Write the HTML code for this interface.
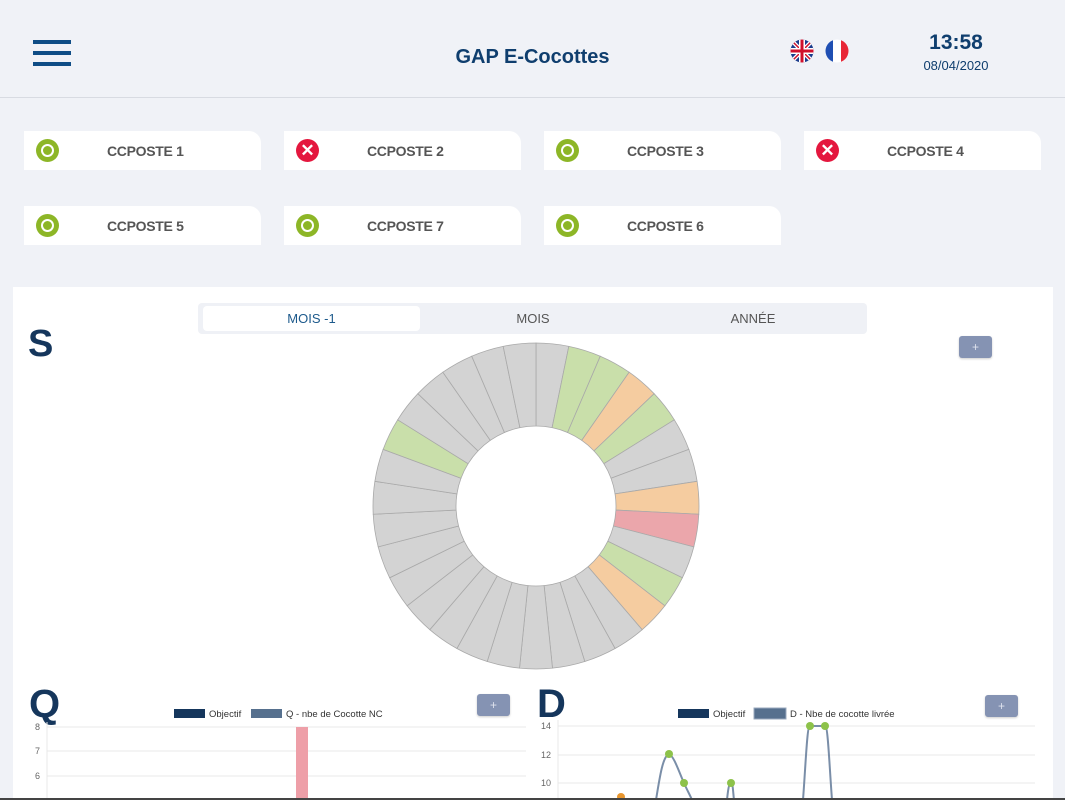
<!DOCTYPE html>
<html><head><meta charset="utf-8"><style>
*{margin:0;padding:0;box-sizing:border-box}
body{width:1065px;height:800px;overflow:hidden;background:#f0f2f7;font-family:"Liberation Sans",sans-serif;position:relative}
.abs{position:absolute}
.card{position:absolute;width:237px;height:39px;background:#fff;border-top-right-radius:12px}
.card .ic{position:absolute;left:12px;top:8px;width:23px;height:23px;border-radius:50%}
.card .ok{background:#8db627}
.card .ok:after{content:"";position:absolute;left:5px;top:5px;width:13px;height:13px;border-radius:50%;background:#8db627;border:2.5px solid #fff;box-sizing:border-box}
.card .ko{background:#e4173e;color:#fff;font-size:17px;font-weight:bold;text-align:center;line-height:23px}
.card .t{position:absolute;left:83px;top:12px;font-size:14px;font-weight:bold;color:#555;letter-spacing:-0.3px}
.plus{position:absolute;width:33px;height:22px;background:#8593b3;border-radius:3px;color:#dfe3ee;font-size:12px;text-align:center;line-height:22px;box-shadow:0 1px 2px rgba(0,0,0,.2)}
.big{position:absolute;font-weight:bold;font-size:40px;color:#15365c}
</style></head><body>
<div class="abs" style="left:33px;top:40px;width:38px;height:4px;background:#0f4d86"></div>
<div class="abs" style="left:33px;top:51px;width:38px;height:4px;background:#0f4d86"></div>
<div class="abs" style="left:33px;top:62px;width:38px;height:4px;background:#0f4d86"></div>
<div class="abs" style="left:0;top:46px;width:1065px;text-align:center;font-size:20px;font-weight:bold;color:#0f3e6e">GAP E-Cocottes</div>
<svg class="abs" style="left:790px;top:39px" width="60" height="26">
<defs><clipPath id="c1"><circle cx="12" cy="12" r="11.5"/></clipPath><clipPath id="c2"><circle cx="47" cy="12" r="11.5"/></clipPath></defs>
<g clip-path="url(#c1)"><rect width="24" height="24" fill="#1a3b8c"/><path d="M0 0L24 24M24 0L0 24" stroke="#fff" stroke-width="4"/><path d="M0 0L24 24M24 0L0 24" stroke="#d0102c" stroke-width="1.5"/><path d="M12 0V24M0 12H24" stroke="#fff" stroke-width="6"/><path d="M12 0V24M0 12H24" stroke="#d0102c" stroke-width="3"/></g>
<g clip-path="url(#c2)"><rect x="35" width="8" height="24" fill="#1f4fb3"/><rect x="43" width="8" height="24" fill="#fff"/><rect x="51" width="8" height="24" fill="#e82636"/></g>
</svg>
<div class="abs" style="left:910px;top:31px;width:92px;text-align:center;font-size:21px;font-weight:bold;color:#0f3e6e">13:58</div>
<div class="abs" style="left:910px;top:58px;width:92px;text-align:center;font-size:13px;color:#0f3e6e">08/04/2020</div>
<div class="abs" style="left:0;top:97px;width:1065px;height:1px;background:#d8dbe2"></div>

<div class="card" style="left:24px;top:131px"><div class="ic ok"></div><div class="t">CCPOSTE 1</div></div>
<div class="card" style="left:284px;top:131px"><div class="ic ko">✕</div><div class="t">CCPOSTE 2</div></div>
<div class="card" style="left:544px;top:131px"><div class="ic ok"></div><div class="t">CCPOSTE 3</div></div>
<div class="card" style="left:804px;top:131px"><div class="ic ko">✕</div><div class="t">CCPOSTE 4</div></div>
<div class="card" style="left:24px;top:206px"><div class="ic ok"></div><div class="t">CCPOSTE 5</div></div>
<div class="card" style="left:284px;top:206px"><div class="ic ok"></div><div class="t">CCPOSTE 7</div></div>
<div class="card" style="left:544px;top:206px"><div class="ic ok"></div><div class="t">CCPOSTE 6</div></div>

<div class="abs" style="left:13px;top:287px;width:1040px;height:513px;background:#fff"></div>
<div class="abs" style="left:198px;top:303px;width:669px;height:31px;background:#eff1f6;border-radius:4px"></div>
<div class="abs" style="left:203px;top:306px;width:217px;height:25px;background:#fff;border-radius:4px"></div>
<div class="abs" style="left:203px;top:311px;width:217px;text-align:center;font-size:13px;color:#1d5a8c">MOIS -1</div>
<div class="abs" style="left:423px;top:311px;width:220px;text-align:center;font-size:13px;color:#555">MOIS</div>
<div class="abs" style="left:643px;top:311px;width:220px;text-align:center;font-size:13px;color:#555">ANNÉE</div>
<div class="big" style="left:28px;top:323px;font-size:38px">S</div>
<div class="plus" style="left:959px;top:336px">+</div>

<svg class="abs" style="left:0;top:0" width="1065" height="800" id="donut"></svg>

<div class="big" style="left:29px;top:682px">Q</div>
<div class="plus" style="left:477px;top:694px">+</div>
<div class="big" style="left:537px;top:682px">D</div>
<div class="plus" style="left:985px;top:695px">+</div>

<svg class="abs" style="left:0;top:0" width="1065" height="800" font-family="Liberation Sans, sans-serif">
<rect x="174" y="709" width="31" height="9" fill="#15365c"/><text x="209" y="717" font-size="9.5" fill="#333">Objectif</text>
<rect x="251" y="709" width="31" height="9" fill="#56708e"/><text x="286" y="717" font-size="9.5" fill="#333">Q - nbe de Cocotte NC</text>
<g stroke="#e8e8e8"><line x1="47" y1="727" x2="526" y2="727"/><line x1="47" y1="751" x2="526" y2="751"/><line x1="47" y1="776" x2="526" y2="776"/><line x1="47" y1="722" x2="47" y2="800"/></g>
<g font-size="9" fill="#666" text-anchor="end"><text x="40" y="730">8</text><text x="40" y="754">7</text><text x="40" y="779">6</text></g>
<rect x="296" y="727" width="12" height="73" fill="#ee9fa8"/>
<rect x="678" y="709" width="31" height="9" fill="#15365c"/><text x="713" y="717" font-size="9.5" fill="#333">Objectif</text>
<rect x="754" y="708" width="32" height="11" fill="#56708e" stroke="#9aa9bd"/><text x="790" y="717" font-size="9.5" fill="#333">D - Nbe de cocotte livrée</text>
<g stroke="#e8e8e8"><line x1="558" y1="726" x2="1035" y2="726"/><line x1="558" y1="755" x2="1035" y2="755"/><line x1="558" y1="783" x2="1035" y2="783"/><line x1="558" y1="720" x2="558" y2="800"/></g>
<g font-size="9" fill="#666" text-anchor="end"><text x="551" y="729">14</text><text x="551" y="758">12</text><text x="551" y="786">10</text></g>
<g fill="none" stroke="#7a8ea8" stroke-width="2">
<path d="M656 800C660 775 663 756 669 754C674 756 679 772 684 783C687 790 690 795 692 800"/>
<path d="M727 800C728 790 729 783 731 783C733 783 733 792 734 800"/>
<path d="M803 800C806 760 807 726 810 726L825 726C828 726 829 760 832 800"/>
</g>
<g fill="#8dc24a"><circle cx="669" cy="754" r="4"/><circle cx="684" cy="783" r="4"/><circle cx="731" cy="783" r="4"/><circle cx="810" cy="726" r="4"/><circle cx="825" cy="726" r="4"/></g>
<circle cx="621" cy="797" r="4" fill="#e8962e"/>
<rect x="0" y="798" width="1065" height="2" fill="#444"/>
</svg>
<script>
(function(){
var cx=536,cy=506,R=163,r=80,n=31,s='';
var col={1:'#c9dfaa',2:'#c9dfaa',3:'#f5cca0',4:'#c9dfaa',7:'#f5cca0',8:'#eba6ab',10:'#c9dfaa',11:'#f5cca0',25:'#c9dfaa'};
function p(a,rr){return (cx+rr*Math.sin(a)).toFixed(2)+' '+(cy-rr*Math.cos(a)).toFixed(2);}
for(var i=0;i<n;i++){var a0=i*2*Math.PI/n,a1=(i+1)*2*Math.PI/n;
s+='<path d="M'+p(a0,R)+'A'+R+' '+R+' 0 0 1 '+p(a1,R)+'L'+p(a1,r)+'A'+r+' '+r+' 0 0 0 '+p(a0,r)+'Z" fill="'+(col[i]||'#d3d3d3')+'" stroke="#a9a9a9" stroke-width="0.8"/>';}
document.getElementById('donut').innerHTML=s;
})();
</script>
</body></html>
